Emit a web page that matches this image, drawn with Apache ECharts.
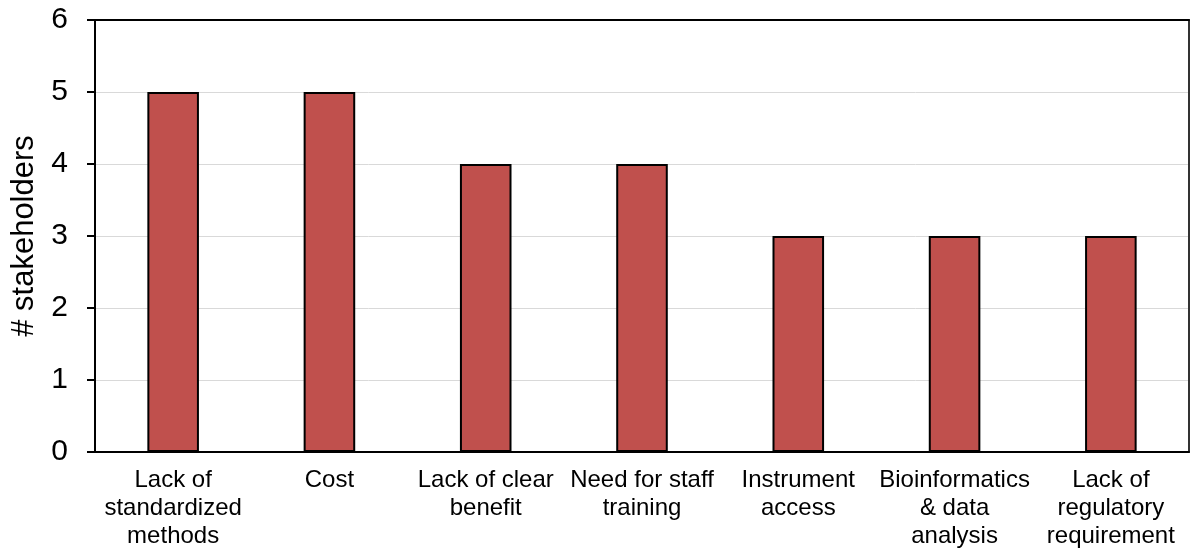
<!DOCTYPE html>
<html>
<head>
<meta charset="utf-8">
<script src="https://cdn.jsdelivr.net/npm/echarts@6/dist/echarts.min.js"></script>
<style>
html,body{margin:0;padding:0;background:#fff;}
#chart{width:1191px;height:550px;}
</style>
</head>
<body>
<div id="chart"></div>
<script>
var categories = [
  "Lack of\nstandardized\nmethods",
  "Cost",
  "Lack of clear\nbenefit",
  "Need for staff\ntraining",
  "Instrument\naccess",
  "Bioinformatics\n& data\nanalysis",
  "Lack of\nregulatory\nrequirement"
];
var stakeholders = [5, 5, 4, 4, 3, 3, 3];
var yTicks = [0, 1, 2, 3, 4, 5, 6];

var chart = echarts.init(document.getElementById('chart'), null, {renderer: 'canvas'});
var font = "'Liberation Sans', Arial, sans-serif";
chart.setOption({
  animation: false,
  backgroundColor: '#fff',
  grid: {left: 95, right: 2, top: 20, bottom: 98, containLabel: false},
  xAxis: [{
    type: 'category',
    data: categories,
    axisLine: {show: true, onZero: false, lineStyle: {color: '#000', width: 2}},
    axisTick: {show: false},
    axisLabel: {
      interval: 0, margin: 14, color: '#000', fontFamily: font,
      fontSize: 24, lineHeight: 28
    },
    splitLine: {show: false}
  }, {
    type: 'category',
    data: categories,
    position: 'top',
    axisLine: {show: true, onZero: false, lineStyle: {color: '#000', width: 2}},
    axisTick: {show: false},
    axisLabel: {show: false},
    splitLine: {show: false}
  }],
  yAxis: [{
    type: 'value',
    min: yTicks[0],
    max: yTicks[yTicks.length - 1],
    interval: 1,
    name: '# stakeholders',
    nameLocation: 'middle',
    nameGap: 50,
    nameTextStyle: {color: '#000', fontFamily: font, fontSize: 31},
    axisLine: {show: true, onZero: false, lineStyle: {color: '#000', width: 2}},
    axisTick: {show: true, length: 8, inside: false, lineStyle: {color: '#000', width: 2}},
    axisLabel: {margin: 27, color: '#000', fontFamily: font, fontSize: 30},
    splitLine: {show: true, lineStyle: {color: '#d9d9d9', width: 1}}
  }, {
    type: 'value',
    position: 'right',
    min: yTicks[0],
    max: yTicks[yTicks.length - 1],
    interval: 1,
    axisLine: {show: true, onZero: false, lineStyle: {color: '#333', width: 2}},
    axisTick: {show: false},
    axisLabel: {show: false},
    splitLine: {show: false}
  }],
  series: [{
    type: 'bar',
    data: stakeholders,
    barWidth: '33%',
    itemStyle: {color: '#C0504D', borderColor: '#000', borderWidth: 2}
  }]
});
</script>
</body>
</html>
